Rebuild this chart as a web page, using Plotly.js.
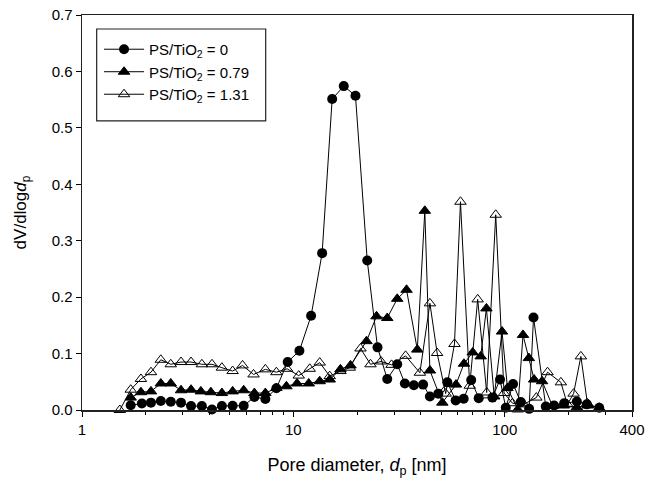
<!DOCTYPE html>
<html>
<head>
<meta charset="utf-8">
<script src="https://cdn.plot.ly/plotly-3.0.1.min.js"></script>
<style>html,body{margin:0;padding:0;background:#fff;}#chart{width:645px;height:478px;}</style>
</head>
<body>
<div id="chart"></div>
<script>
// Series: PS/TiO2 = 0 (filled circles)
const d0 = [1.70, 1.92, 2.12, 2.36, 2.63, 2.94, 3.28, 3.69, 4.12, 4.59, 5.16, 5.82, 6.54, 7.37, 8.31, 9.40, 10.68, 12.13, 13.68, 15.26, 17.31, 19.67, 22.36, 25.01, 27.81, 31.00, 33.69, 37.16, 41.09, 44.26, 48.52, 53.51, 58.60, 63.93, 69.37, 75.30, 87.45, 95.00, 101.1, 109.5, 119.1, 130.4, 136.8, 156.4, 171.2, 191.0, 219.4, 244.7, 279.9];
const v0 = [0.0085, 0.0115, 0.013, 0.016, 0.0145, 0.013, 0.007, 0.007, 0.001, 0.007, 0.0075, 0.0075, 0.023, 0.0195, 0.0385, 0.085, 0.105, 0.167, 0.278, 0.551, 0.574, 0.557, 0.265, 0.111, 0.055, 0.081, 0.047, 0.044, 0.045, 0.024, 0.029, 0.049, 0.017, 0.020, 0.053, 0.021, 0.022, 0.054, 0.004, 0.046, 0.014, 0.002, 0.164, 0.006, 0.008, 0.012, 0.015, 0.010, 0.004];

// Series: PS/TiO2 = 0.79 (filled triangles)
const d1 = [1.70, 1.90, 2.12, 2.36, 2.63, 2.94, 3.28, 3.65, 4.07, 4.59, 5.16, 5.82, 6.54, 7.37, 8.31, 9.27, 10.41, 11.82, 13.32, 14.86, 16.70, 18.63, 22.18, 24.74, 27.81, 31.00, 34.31, 38.58, 41.86, 44.26, 50.67, 58.78, 64.13, 70.53, 76.95, 81.90, 89.18, 97.10, 103.0, 115.2, 122.0, 130.0, 137.7, 150.2, 168.3, 190.4, 219.4, 247.4, 279.9];
const v1 = [0.022, 0.0315, 0.033, 0.047, 0.047, 0.035, 0.036, 0.033, 0.0315, 0.030, 0.033, 0.035, 0.030, 0.030, 0.039, 0.042, 0.047, 0.047, 0.051, 0.054, 0.072, 0.079, 0.122, 0.166, 0.163, 0.197, 0.213, 0.107, 0.353, 0.070, 0.013, 0.045, 0.082, 0.102, 0.095, 0.180, 0.024, 0.139, 0.039, 0.001, 0.133, 0.092, 0.054, 0.051, 0.007, 0.008, 0.005, 0.008, 0.004];

// Series: PS/TiO2 = 1.31 (open triangles)
const d2 = [1.51, 1.70, 1.90, 2.12, 2.36, 2.63, 2.94, 3.28, 3.69, 4.12, 4.59, 5.16, 5.75, 6.48, 7.37, 8.31, 9.34, 10.60, 11.95, 13.32, 14.86, 16.70, 18.49, 20.78, 23.17, 25.98, 29.14, 33.95, 39.68, 44.26, 47.87, 52.54, 57.83, 61.74, 68.27, 74.47, 82.15, 90.64, 99.24, 108.8, 123.0, 141.1, 159.4, 184.3, 197.8, 211.7, 229.2, 246.0];
const v2 = [0.0, 0.036, 0.055, 0.067, 0.089, 0.081, 0.085, 0.085, 0.081, 0.081, 0.075, 0.069, 0.079, 0.063, 0.072, 0.067, 0.073, 0.061, 0.073, 0.084, 0.060, 0.069, 0.075, 0.109, 0.081, 0.086, 0.080, 0.096, 0.066, 0.189, 0.101, 0.029, 0.117, 0.369, 0.043, 0.196, 0.031, 0.346, 0.030, 0.012, 0.010, 0.022, 0.067, 0.049, 0.010, 0.029, 0.095, 0.012];

const names = ['PS/TiO<sub>2</sub> = 0', 'PS/TiO<sub>2</sub> = 0.79', 'PS/TiO<sub>2</sub> = 1.31'];
const xTickVals = [1, 10, 100, 400];
const xTickText = ['1', '10', '100', '400'];
const xMinorVals = [2, 3, 4, 5, 6, 7, 8, 9, 20, 30, 40, 50, 60, 70, 80, 90, 200, 300];

const lineStyle = {color: '#000', width: 1};
const traces = [
  {x: d0, y: v0, name: names[0], legendgroup: 'a', mode: 'lines+markers', line: lineStyle,
   marker: {symbol: 'circle', size: 10, color: '#000', line: {color: '#000', width: 0}}, cliponaxis: false},
  {x: d1, y: v1, name: names[1], legendgroup: 'b', mode: 'lines+markers', line: lineStyle,
   marker: {symbol: 'triangle-up', size: 10, color: '#000', line: {color: '#000', width: 1}}, cliponaxis: false},
  {x: d2, y: v2, name: names[2], legendgroup: 'c', mode: 'lines+markers', line: lineStyle,
   marker: {symbol: 'triangle-up-open', size: 10, color: '#000', line: {color: '#000', width: 1}}, cliponaxis: false}
];

const fam = 'Arial, "Liberation Sans", sans-serif';
const layout = {
  width: 645, height: 478,
  margin: {l: 82, r: 13, t: 15, b: 67.5, pad: 0},
  paper_bgcolor: '#fff', plot_bgcolor: '#fff',
  font: {family: fam, size: 15, color: '#000'},
  showlegend: true,
  legend: {x: 0.031, y: 0.9545, xanchor: 'left', yanchor: 'top', borderwidth: 0,
           bgcolor: 'rgba(0,0,0,0)', font: {family: fam, size: 15, color: '#000'}, tracegroupgap: 4,
           itemwidth: 40, traceorder: 'normal'},
  shapes: [{type: 'rect', xref: 'paper', yref: 'paper', x0: 0.0267, x1: 0.334, y0: 0.732, y1: 0.9646,
            line: {color: '#222', width: 1.2}, fillcolor: 'rgba(0,0,0,0)', layer: 'above'}],
  xaxis: {type: 'log', range: [0, Math.log10(400)], tickmode: 'array', tickvals: xTickVals, ticktext: xTickText,
          ticks: 'outside', ticklen: 5, tickwidth: 1, tickcolor: '#000',
          minor: {tickmode: 'array', tickvals: xMinorVals, ticks: 'outside', ticklen: 3, tickwidth: 1, tickcolor: '#000', showgrid: false},
          showline: true, linecolor: '#222', linewidth: 1.5, mirror: true, showgrid: false, zeroline: false,
          tickfont: {family: fam, size: 15, color: '#000'},
          title: {text: 'Pore diameter, <i>d</i><sub>p</sub> [nm]', font: {family: fam, size: 18, color: '#000'}, standoff: 23}},
  yaxis: {range: [0, 0.7], dtick: 0.1, tick0: 0, tickformat: '.1f',
          ticks: 'outside', ticklen: 5, tickwidth: 1, tickcolor: '#000',
          showline: true, linecolor: '#222', linewidth: 1.5, mirror: true, showgrid: false, zeroline: false,
          tickfont: {family: fam, size: 15, color: '#000'},
          title: {text: 'dV/dlog<i>d</i><sub>p</sub>', font: {family: fam, size: 17, color: '#000'}, standoff: 20}}
};

Plotly.newPlot('chart', traces, layout, {displayModeBar: false, staticPlot: true});
</script>
</body>
</html>
